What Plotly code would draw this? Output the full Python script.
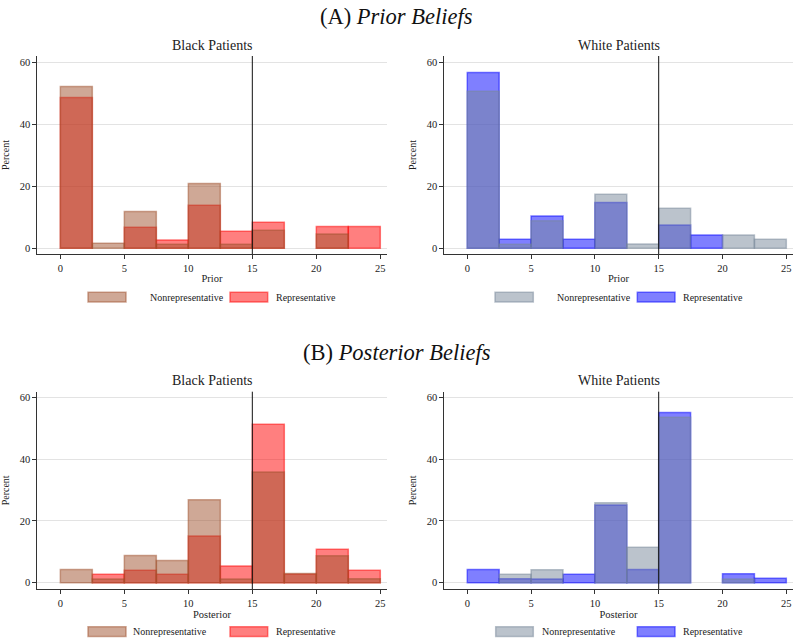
import plotly.graph_objects as go

W, H = 793, 641

# ---------------- data ----------------
bin_starts = [0, 2.5, 5, 7.5, 10, 12.5, 15, 17.5, 20, 22.5]
bin_width = 2.5
x_ticks = [0, 5, 10, 15, 20, 25]
y_ticks = [0, 20, 40, 60]
threshold = 15

black_prior_nonrep = [52.2, 1.6, 11.9, 1.3, 20.9, 1.3, 5.8, 0, 4.6, 0]
black_prior_rep = [48.6, 0, 6.8, 2.7, 13.9, 5.5, 8.4, 0, 7.0, 7.0]
white_prior_nonrep = [50.6, 1.3, 8.9, 0, 17.4, 1.4, 12.9, 0, 4.3, 2.9]
white_prior_rep = [56.7, 2.9, 10.4, 2.9, 14.8, 0, 7.5, 4.3, 0, 0]
black_post_nonrep = [4.3, 1.2, 8.8, 7.2, 26.8, 1.2, 35.8, 3.0, 8.7, 1.3]
black_post_rep = [0, 2.7, 4.0, 2.7, 15.1, 5.4, 51.3, 2.7, 10.8, 4.0]
white_post_nonrep = [0, 2.7, 4.2, 0, 25.9, 11.5, 53.5, 0, 1.2, 0]
white_post_rep = [4.3, 1.3, 1.2, 2.7, 25.1, 4.3, 55.1, 0, 2.9, 1.4]

series_labels = ["Nonrepresentative", "Representative"]
panel_titles = ["(A) <i>Prior Beliefs</i>", "(B) <i>Posterior Beliefs</i>"]
subplot_titles = ["Black Patients", "White Patients"]
x_titles = ["Prior", "Posterior"]

# ---------------- styles ----------------
FONT = "Liberation Serif"
C_SIENNA = "rgba(160,82,45,0.5)"
C_RED = "rgba(255,0,0,0.5)"
C_SLATE = "rgba(119,136,153,0.5)"
C_BLUE = "rgba(0,0,255,0.5)"
AX = "#333333"
GRID = "#e3e3e3"

def px_x(p):
    return p / W

def px_y(p):
    return 1 - p / H

# plot area pixels (left, right, top, bottom)
areas = {
    (0, 0): (37.3, 386.7, 56, 254),
    (0, 1): (444.3, 792.7, 56, 254),
    (1, 0): (37.3, 386.7, 391.7, 589),
    (1, 1): (444.3, 792.7, 391.7, 589),
}
yranges = {0: [-1.84, 62.0], 1: [-2.04, 61.8]}

data = {
    (0, 0): (black_prior_nonrep, black_prior_rep, C_SIENNA, C_RED),
    (0, 1): (white_prior_nonrep, white_prior_rep, C_SLATE, C_BLUE),
    (1, 0): (black_post_nonrep, black_post_rep, C_SIENNA, C_RED),
    (1, 1): (white_post_nonrep, white_post_rep, C_SLATE, C_BLUE),
}

fig = go.Figure()
shapes = []
annotations = []
layout_axes = {}

def clean(v):
    return [None if val == 0 else val for val in v]

idx = 0
for (r, c), (l, rt, t, b) in areas.items():
    idx += 1
    xa = "x" if idx == 1 else f"x{idx}"
    ya = "y" if idx == 1 else f"y{idx}"
    xkey = "xaxis" if idx == 1 else f"xaxis{idx}"
    ykey = "yaxis" if idx == 1 else f"yaxis{idx}"
    nonrep, rep, cn, cr = data[(r, c)]

    # representative drawn first, nonrepresentative on top
    for vals, col in ((rep, cr), (nonrep, cn)):
        fig.add_trace(go.Bar(
            x=bin_starts, y=clean(vals), width=bin_width, offset=0,
            marker=dict(color=col, line=dict(color=col, width=1.5)),
            xaxis=xa, yaxis=ya, showlegend=False, hoverinfo="skip",
        ))

    layout_axes[xkey] = dict(
        domain=[px_x(l), px_x(rt)], anchor=ya, range=[-1.8, 25.5],
        tickvals=x_ticks, ticks="outside", ticklen=4, tickcolor=AX,
        showline=True, linecolor=AX, linewidth=1, showgrid=False, zeroline=False,
        tickfont=dict(family=FONT, size=10.5, color="#222"),
        title=dict(text=x_titles[r], font=dict(family=FONT, size=10.5, color="#222"), standoff=2),
        fixedrange=True,
    )
    layout_axes[ykey] = dict(
        domain=[px_y(b), px_y(t)], anchor=xa, range=yranges[r],
        tickvals=y_ticks, ticks="outside", ticklen=4, tickcolor=AX,
        showline=True, linecolor=AX, linewidth=1, showgrid=True, gridcolor=GRID,
        gridwidth=1, zeroline=False,
        tickfont=dict(family=FONT, size=10.5, color="#222"),
        title=dict(text="Percent", font=dict(family=FONT, size=10, color="#222"), standoff=8),
        fixedrange=True,
    )
    # threshold line
    shapes.append(dict(type="line", xref=xa, yref=f"{ya} domain", x0=threshold, x1=threshold,
                       y0=0, y1=1, line=dict(color="#111", width=1)))
    # subplot title
    annotations.append(dict(text=subplot_titles[c], xref="paper", yref="paper",
                            x=px_x((l + rt) / 2), y=px_y(t - 11), xanchor="center", yanchor="middle",
                            showarrow=False, font=dict(family=FONT, size=14, color="#222")))

# main panel titles
annotations.append(dict(text=panel_titles[0], xref="paper", yref="paper", x=0.5, y=px_y(17),
                        xanchor="center", yanchor="middle", showarrow=False,
                        font=dict(family=FONT, size=22.5, color="#111")))
annotations.append(dict(text=panel_titles[1], xref="paper", yref="paper", x=0.5, y=px_y(352),
                        xanchor="center", yanchor="middle", showarrow=False,
                        font=dict(family=FONT, size=22.5, color="#111")))

# legends (symbol boxes + labels)
legends = [
    (292.3, 302, (88, 126), 148.3, (230, 267.7), 274.3, (C_SIENNA, C_RED)),
    (292.3, 302, (495, 533.3), 555, (637.3, 675), 681, (C_SLATE, C_BLUE)),
    (626.8, 636.5, (88, 126), 130.7, (230, 267.7), 274.3, (C_SIENNA, C_RED)),
    (626.8, 636.5, (495.7, 533.3), 540, (637.3, 675), 681, (C_SLATE, C_BLUE)),
]
for yt, yb, b1, t1, b2, t2, cols in legends:
    for (x0, x1), tx, col, lab in ((b1, t1, cols[0], series_labels[0]), (b2, t2, cols[1], series_labels[1])):
        shapes.append(dict(type="rect", xref="paper", yref="paper",
                           x0=px_x(x0), x1=px_x(x1), y0=px_y(yb), y1=px_y(yt),
                           fillcolor=col, line=dict(color=col, width=1.5)))
        annotations.append(dict(text=lab, xref="paper", yref="paper", x=px_x(tx), y=px_y((yt + yb) / 2),
                                xanchor="left", yanchor="middle", showarrow=False,
                                font=dict(family=FONT, size=10, color="#222")))

fig.update_layout(
    width=W, height=H, margin=dict(l=0, r=0, t=0, b=0),
    paper_bgcolor="white", plot_bgcolor="white",
    font=dict(family=FONT),
    barmode="overlay", shapes=shapes, annotations=annotations,
    showlegend=False, **layout_axes,
)

fig.write_html("out.html")
